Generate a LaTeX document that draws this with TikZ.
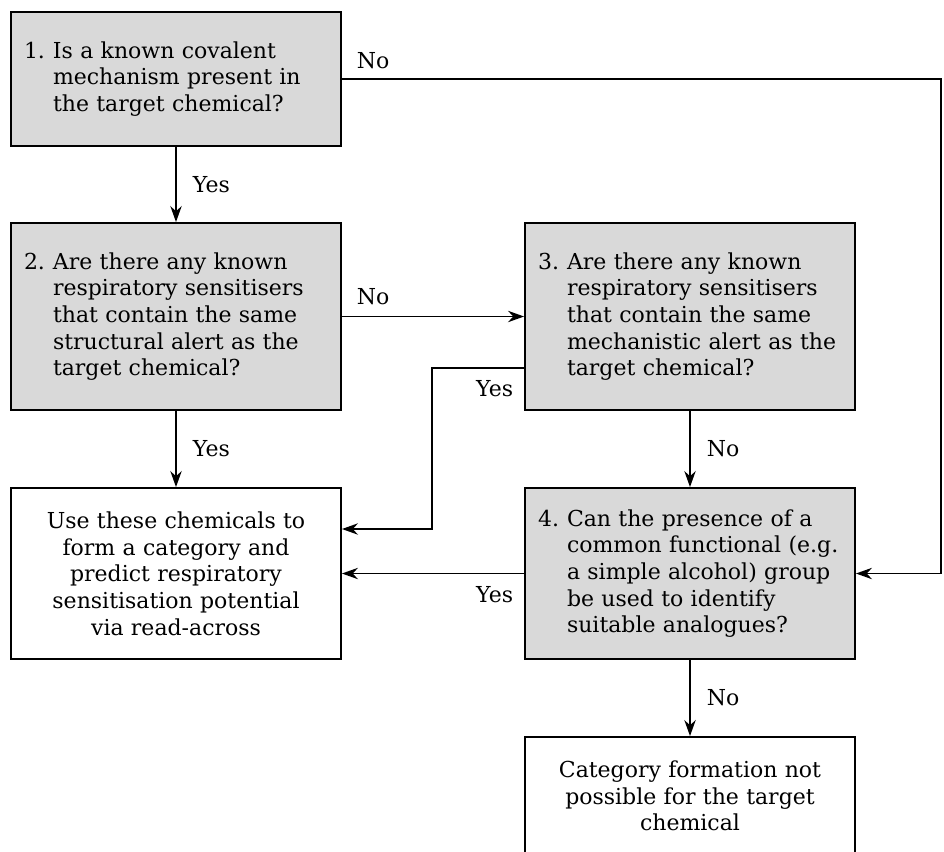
\documentclass[tikz,border=0pt]{standalone}
\usepackage{fontspec}
\setmainfont{DejaVu Serif}
\usetikzlibrary{arrows.meta,positioning,calc}

\definecolor{boxgray}{HTML}{D9D9D9}
\newcommand{\qnum}[1]{\makebox[21.75pt][l]{#1}}
\newcommand{\qind}{\hspace*{21.75pt}}

\tikzset{
  qbox/.style={draw, line width=1.4pt, fill=boxgray, minimum width=247.5pt,
    text width=228pt, inner xsep=9.75pt, align=left},
  abox/.style={qbox, fill=white, align=center},
  lbl/.style={inner sep=0pt}
}

\begin{document}
\begin{tikzpicture}[x=0.75pt, y=-0.75pt, >={Stealth[length=12pt,width=8.5pt]},
  line width=1.4pt, font=\fontsize{16.5pt}{20pt}\selectfont]
 \useasboundingbox (0,0) rectangle (944,851);

 % questions
 \node[qbox, minimum height=100.5pt] (q1) at (176,79)
  {\qnum{1.}Is a known covalent\\ \qind mechanism present in\\ \qind the target chemical?};
 \node[qbox, minimum height=140.25pt] (q2) at (176,316.5)
  {\qnum{2.}Are there any known\\ \qind respiratory sensitisers\\ \qind that contain the same\\ \qind structural alert as the\\ \qind target chemical?};
 \node[qbox, minimum height=140.25pt] (q3) at (690,316.5)
  {\qnum{3.}Are there any known\\ \qind respiratory sensitisers\\ \qind that contain the same\\ \qind mechanistic alert as the\\ \qind target chemical?};
 \node[qbox, minimum height=128.25pt] (q4) at (690,573.5)
  {\qnum{4.}Can the presence of a\\ \qind common functional (e.g.\\ \qind a simple alcohol) group\\ \qind be used to identify\\ \qind suitable analogues?};

 % outcomes
 \node[abox, minimum height=128.25pt] (use) at (176,573.5)
  {Use these chemicals to\\form a category and\\predict respiratory\\sensitisation potential\\via read-across};
 \node[abox, minimum height=88.5pt] (none) at (690,796)
  {Category formation not\\possible for the target\\chemical};

 \coordinate (rim) at (941,79);
 \coordinate (ya) at (432,368);

 \draw[->] (q1) -- node[lbl, right=12pt] {Yes} (q2);
 \draw[->] (q1) -- node[lbl, at start, above right=7pt and 10.5pt] {No} (rim) |- (q4);
 \draw[->] (q2) -- node[lbl, at start, above right=8pt and 10.5pt] {No} (q3);
 \draw[->] (q2) -- node[lbl, right=12pt] {Yes} (use);
 \draw[->] (q3.west |- ya) -- node[lbl, at start, below left=9pt and 7.5pt] {Yes} (ya)
  |- ($(use.east)+(0,-44.5)$);
 \draw[->] (q3) -- node[lbl, right=12pt] {No} (q4);
 \draw[->] (q4) -- node[lbl, at start, below left=9pt and 7.5pt] {Yes} (use);
 \draw[->] (q4) -- node[lbl, right=12pt] {No} (none);
\end{tikzpicture}
\end{document}
